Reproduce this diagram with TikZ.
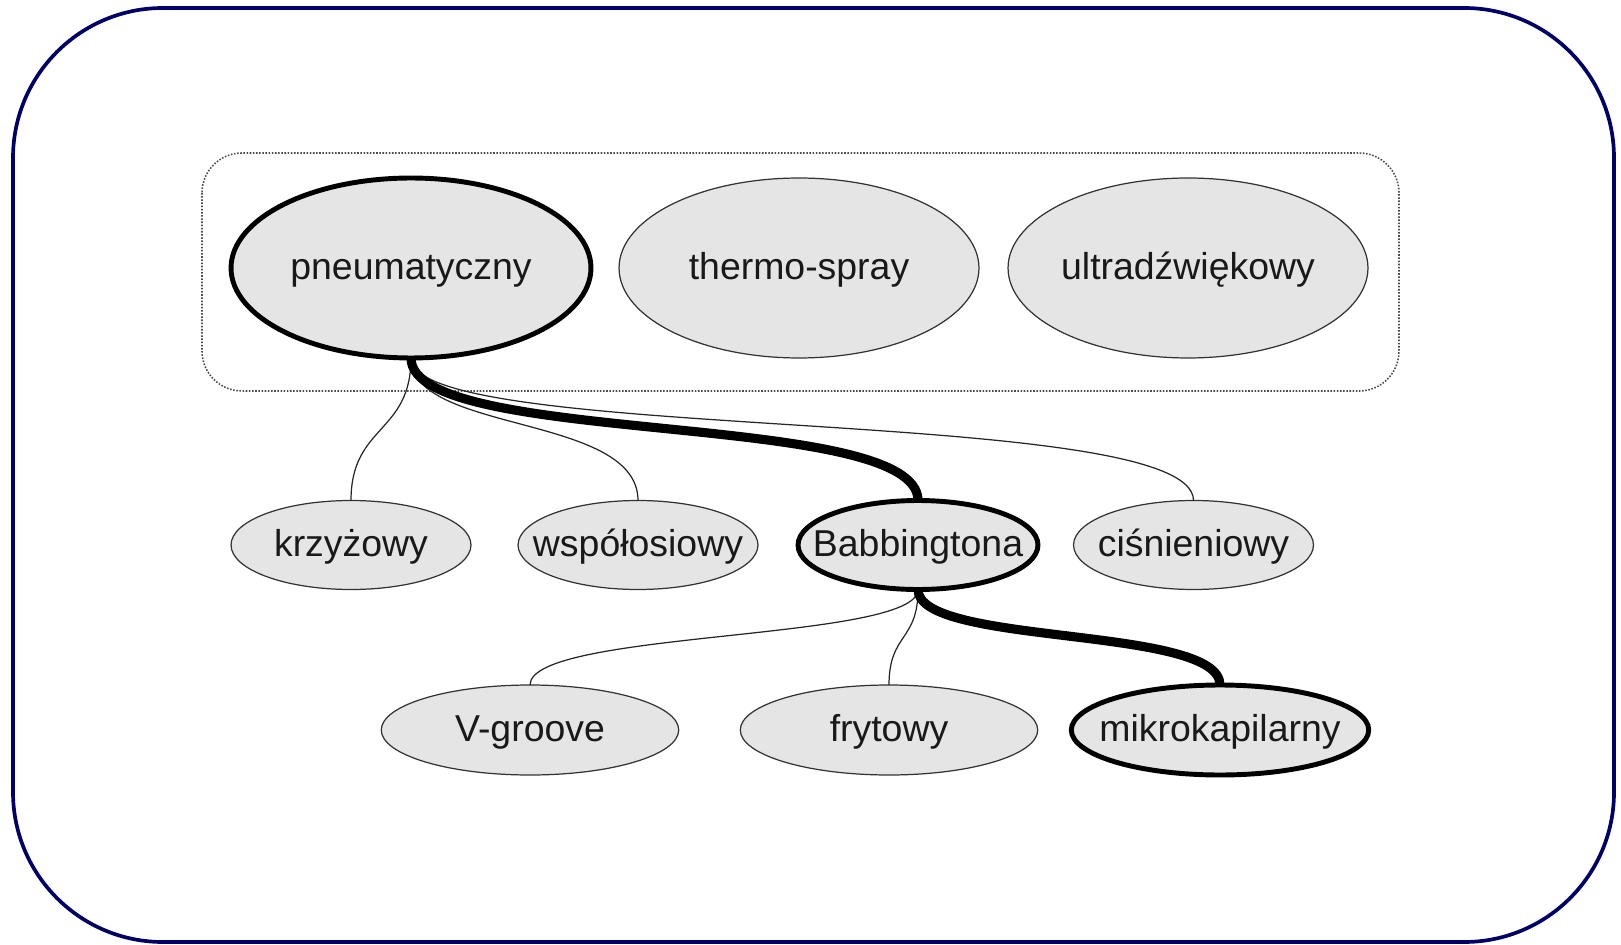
\documentclass[tikz,border=0pt]{standalone}
\usepackage{fontspec}
\setmainfont{Liberation Sans}
\usetikzlibrary{shapes.geometric}
\definecolor{navyframe}{RGB}{0,0,102}
\definecolor{nodefill}{RGB}{229,229,229}
\newcommand{\lbl}[1]{\makebox[0pt]{\raisebox{-6.3pt}[0pt][0pt]{#1}}}
\begin{document}
\begin{tikzpicture}[x=0.02cm,y=-0.02cm,
  ell/.style={ellipse, draw=black!80, line width=0.7pt, fill=nodefill,
    inner sep=0pt, outer sep=0pt, text=black!90, font=\fontsize{21.3}{25}\selectfont},
  topell/.style={ell, minimum width=7.2cm, minimum height=3.6cm},
  midell/.style={ell, minimum width=4.8cm, minimum height=1.78cm},
  lowell/.style={ell, minimum width=5.95cm, minimum height=1.8cm},
  boldell/.style={draw=black, line width=2.8pt},
  thinlink/.style={draw=black!85, line width=0.7pt},
  boldlink/.style={draw=black, line width=5.2pt},
]
\useasboundingbox (0,0) rectangle (1621,945);
\draw[navyframe, line width=2.1pt, rounded corners=3cm] (13,8) rectangle (1614,942);
\draw[black!70, line width=0.9pt, dash pattern=on 0.9pt off 0.9pt, rounded corners=0.8cm]
  (202,153) rectangle (1399,391);

\node[topell, boldell] (pn) at (411,268) {\lbl{pneumatyczny}};
\node[topell] (th) at (799,268) {\lbl{thermo-spray}};
\node[topell] (ul) at (1188,268) {\lbl{ultradźwiękowy}};

\node[midell] (kr) at (351,545) {\lbl{krzyżowy}};
\node[midell] (ws) at (638,545) {\lbl{współosiowy}};
\node[midell, boldell] (ba) at (918,545) {\lbl{Babbingtona}};
\node[midell] (ci) at (1193.5,545) {\lbl{ciśnieniowy}};

\node[lowell] (vg) at (530,730) {\lbl{V-groove}};
\node[lowell] (fr) at (889,730) {\lbl{frytowy}};
\node[lowell, boldell] (mk) at (1220,730) {\lbl{mikrokapilarny}};

\draw[thinlink] (pn.south) .. controls +(0,76) and +(0,-76) .. (kr.north);
\draw[thinlink] (pn.south) .. controls +(0,76) and +(0,-87) .. (ws.north);
\draw[thinlink] (pn.south) .. controls +(0,87) and +(0,-97) .. (ci.north);
\draw[boldlink] (pn.south) .. controls +(0,90) and +(0,-92) .. (ba.north);

\draw[thinlink] (ba.south) .. controls +(0,52) and +(0,-55) .. (vg.north);
\draw[thinlink] (ba.south) .. controls +(0,52) and +(0,-52) .. (fr.north);
\draw[boldlink] (ba.south) .. controls +(0,57) and +(0,-60) .. (mk.north);
\end{tikzpicture}
\end{document}
